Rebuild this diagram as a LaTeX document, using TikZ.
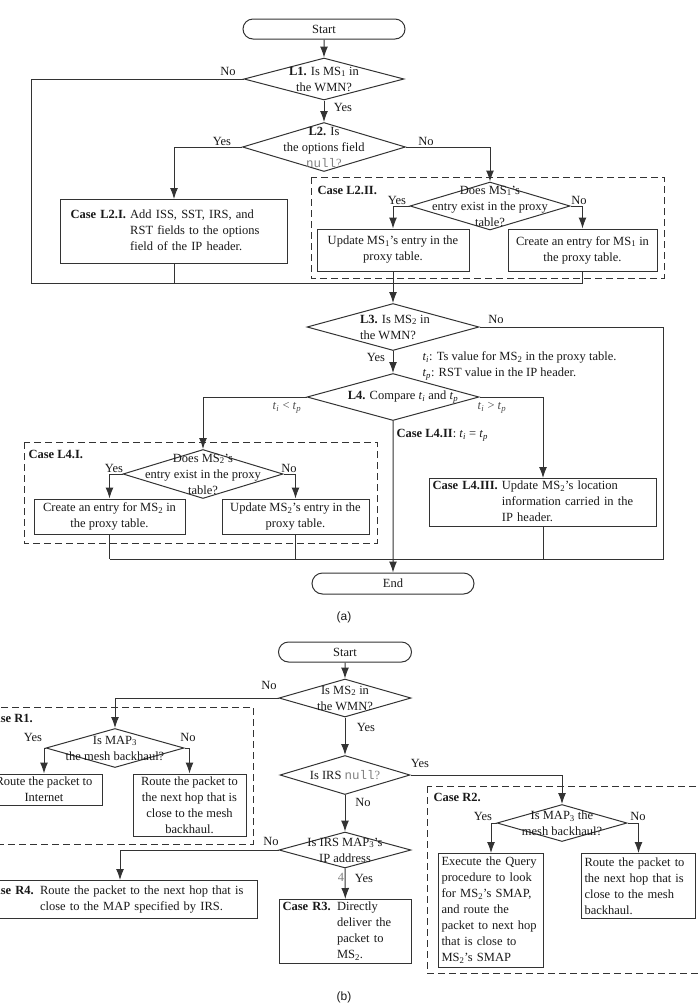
\documentclass[tikz,border=0pt]{standalone}
\usepackage{fontspec}
\setmainfont{Liberation Serif}
\setmonofont{Liberation Mono}
\newfontfamily\capfont{Liberation Sans}
\usetikzlibrary{shapes.geometric,shapes.misc,arrows.meta}
\newcommand\ms[1]{MS\textsubscript{#1}}
\newcommand\mapthree{MAP\textsubscript{3}}
\newcommand\nullq{\textcolor{gray}{\texttt{null}?}}
\newcommand\tI{\textit{t}\textsubscript{\textit{i}}}
\newcommand\tP{\textit{t}\textsubscript{\textit{p}}}
\tikzset{
  every node/.style={font=\fontsize{12.5}{16}\selectfont, text=black!90},
  term/.style 2 args={draw, rounded rectangle, minimum width=#1, minimum height=#2, inner sep=0pt},
  dec/.style 2 args={diamond, draw, inner sep=0pt, minimum width=#1, minimum height=#2},
  dtext/.style={align=center, inner sep=0pt},
  cbox/.style 2 args={draw, minimum width=#1, minimum height=#2, inner sep=0pt, align=center},
  lbox/.style 2 args={draw, anchor=north west, inner xsep=3pt, inner ysep=0pt, text width=#1, minimum height=#2, align=left},
  casebox/.style={dash pattern=on 7pt off 4pt},
  lab/.style={inner sep=1pt},
  cmp/.style={inner sep=1pt, text=black!70},
  caption/.style={font=\capfont\fontsize{12}{14}\selectfont},
}
\begin{document}
\begin{tikzpicture}[>={Latex[length=11pt,width=8pt]}, x=1pt, y=-1pt, line width=1pt, color=black!80]
\useasboundingbox (0,0) rectangle (699,1005);
\clip (0,0) rectangle (699,1005);
% ---------------- (a) ----------------
\node[term={162pt}{20pt}] (startA) at (324,29) {Start};
\node[dec={160pt}{42pt}, label={[dtext]center:{\textbf{L1.} Is \ms{1} in\\the WMN?}}] (l1) at (324,79) {};
\node[dec={163pt}{49pt}, label={[dtext]center:{\textbf{L2.} Is\\the options field\\\nullq}}] (l2) at (324,147) {};
\node[lbox={207pt}{64pt}, inner xsep=10pt] (l2i) at (60,199) {\begin{tabular}{@{}l@{ }l@{}}\textbf{Case L2.I.} & Add ISS, SST, IRS, and\\ & RST fields to the options\\ & field of the IP header.\end{tabular}};
% Case L2.II
\draw[casebox] (311,177) rectangle (664,278);
\node[lab, anchor=west] (c2ii) at (316,190) {\textbf{Case L2.II.}};
\node[dec={160pt}{48pt}, label={[dtext]center:{Does \ms{1}'s\\entry exist in the proxy\\table?}}] (l2ii) at (490,206) {};
\node[cbox={152pt}{42pt}] (upd1) at (393,250) {Update \ms{1}'s entry in the\\proxy table.};
\node[cbox={149pt}{42pt}] (cre1) at (582.5,250) {Create an entry for \ms{1} in\\the proxy table.};
\coordinate (ja) at (31,283);
\coordinate (jb) at (582.5,283);
% L3, L4
\node[dec={172pt}{47pt}, label={[dtext, align=left, xshift=2pt]center:{\textbf{L3.} Is \ms{2} in\\the WMN?}}] (l3) at (393,327) {};
\node[lab, anchor=west, align=left] (note) at (421,366) {\tI: Ts value for \ms{2} in the proxy table.\\\tP: RST value in the IP header.};
\node[dec={172pt}{47pt}, label={[dtext, xshift=10pt]center:{\textbf{L4.} Compare \tI{} and \tP}}] (l4) at (393,397) {};
% Case L4.I
\draw[casebox] (24,442) rectangle (377,543);
\node[lab, anchor=west] (c4i) at (27,454) {\textbf{Case L4.I.}};
\node[dec={160pt}{49pt}, label={[dtext]center:{Does \ms{2}'s\\entry exist in the proxy\\table?}}] (l4ii) at (203,474) {};
\node[cbox={151pt}{35pt}] (cre2) at (109.5,516.5) {Create an entry for \ms{2} in\\the proxy table.};
\node[cbox={147pt}{35pt}] (upd2) at (295.5,516.5) {Update \ms{2}'s entry in the\\proxy table.};
\node[lbox={221pt}{47pt}] (c43) at (429,478) {\begin{tabular}{@{}l@{ }l@{}}\textbf{Case L4.III.} & Update \ms{2}'s location\\ & information carried in the\\ & IP header.\end{tabular}};
\coordinate (jc) at (109.5,559);
\coordinate (jd) at (663,559);
\node[term={162pt}{21pt}] (endA) at (393,583.5) {End};
% connectors (a)
\draw[->] (startA) -- (l1);
\draw (l1.west) -| (ja) -- (jb);
\draw[->] (l1) -- (l2);
\draw[->] (l2.west) -| (l2i.north);
\draw[->] (l2.east) -| (l2ii.north);
\draw[->] (l2ii.west) -| (upd1.north);
\draw[->] (l2ii.east) -| (cre1.north);
\draw (l2i.south) -- (l2i.south |- ja);
\draw (cre1.south) -- (jb);
\draw[->] (upd1.south) -- (l3.north);
\draw (l3.east) -| (jd) -- (jc);
\draw[->] (l3) -- (l4);
\draw[->] (l4.west) -| (l4ii.north);
\draw[->] (l4.east) -| (c43.north);
\draw[->] (l4) -- (endA);
\draw[->] (l4ii.west) -| (cre2.north);
\draw[->] (l4ii.east) -| (upd2.north);
\draw (cre2.south) -- (jc);
\draw (upd2.south) -- (upd2.south |- jc);
\draw (c43.south) -- (c43.south |- jc);
% branch labels (a)
\node[lab] (nA1) at (228,71) {No};
\node[lab] (yA1) at (343,107) {Yes};
\node[lab] (yA2) at (222,141) {Yes};
\node[lab] (nA2) at (426,141) {No};
\node[lab] (yA3) at (397,200) {Yes};
\node[lab] (nA3) at (579,200) {No};
\node[lab] (nA4) at (496,319) {No};
\node[lab] (yA4) at (376,357) {Yes};
\node[cmp] (lt) at (287,408) {\tI{} < \tP};
\node[cmp] (gt) at (492,408) {\tI{} > \tP};
\node[lab, anchor=west] (c4ii) at (395,435) {\textbf{Case L4.II}: \tI{} = \tP};
\node[lab] (yA5) at (114,468) {Yes};
\node[lab] (nA5) at (289,468) {No};
\node[caption] (capA) at (344,617) {(a)};
% ---------------- (b) ----------------
\node[term={133pt}{20pt}] (startB) at (345,652) {Start};
\node[dec={132pt}{38pt}, label={[dtext]center:{Is \ms{2} in\\the WMN?}}] (b1) at (345,698) {};
\node[dec={130pt}{39pt}, label={[dtext]center:{Is IRS \nullq}}] (b2) at (345,775) {};
\node[dec={132pt}{36pt}, label={[dtext]center:{Is IRS \mapthree's\\IP address}}] (b3) at (345,850) {};
% Case R1
\draw[casebox] (-20,707) rectangle (253,844);
\node[lab, anchor=west] (cr1) at (-16,718) {\textbf{Case R1.}};
\node[dec={138pt}{39pt}, label={[dtext]center:{Is \mapthree\\the mesh backhaul?}}] (r1) at (115,748) {};
\node[cbox={116pt}{31pt}] (r1a) at (44,789.5) {Route the packet to\\Internet};
\node[cbox={113pt}{62pt}] (r1b) at (189.5,805) {Route the packet to\\the next hop that is\\close to the mesh\\backhaul.};
% Case R2
\draw[casebox] (427,786) rectangle (710,973);
\node[lab, anchor=west] (cr2) at (432,797) {\textbf{Case R2.}};
\node[dec={130pt}{37pt}, label={[dtext]center:{Is \mapthree{} the\\mesh backhaul?}}] (r2) at (562,823) {};
\node[lbox={99pt}{114pt}] (r2a) at (438,853) {Execute the Query\\procedure to look\\for \ms{2}'s SMAP,\\and route the\\packet to next hop\\that is close to\\\ms{2}'s SMAP};
\node[lbox={108pt}{65pt}] (r2b) at (581,853) {Route the packet to\\the next hop that is\\close to the mesh\\backhaul.};
% Case R3, R4
\node[lbox={269pt}{38pt}] (r4) at (-18,880) {\begin{tabular}{@{}l@{ }l@{}}\textbf{Case R4.} & Route the packet to the next hop that is\\ & close to the MAP specified by IRS.\end{tabular}};
\node[lbox={126pt}{64pt}] (r3) at (279,899) {\begin{tabular}{@{}l@{ }l@{}}\textbf{Case R3.} & Directly\\ & deliver the\\ & packet to\\ & \ms{2}.\end{tabular}};
% connectors (b)
\draw[->] (startB) -- (b1);
\draw[->] (b1.west) -| (r1.north);
\draw[->] (b1) -- (b2);
\draw[->] (b2.east) -| (r2.north);
\draw[->] (b2) -- (b3);
\draw[->] (b3.west) -| (r4.north);
\draw[->] (b3) -- (r3);
\draw[->] (r1.west) -| (r1a.north);
\draw[->] (r1.east) -| (r1b.north);
\draw[->] (r2.west) -| (r2a.north);
\draw[->] (r2.east) -| (r2b.north);
% branch labels (b)
\node[lab] (nB1) at (269,685) {No};
\node[lab] (yB1) at (366,727) {Yes};
\node[lab] (yB2) at (420,763) {Yes};
\node[lab] (nB2) at (363,802) {No};
\node[lab] (nB3) at (271,841) {No};
\node[lab] (yB3) at (364,878) {Yes};
\node[lab, text=gray] (four) at (341,877) {4};
\node[lab] (yB4) at (33,737) {Yes};
\node[lab] (nB4) at (188,737) {No};
\node[lab] (yB5) at (483,816) {Yes};
\node[lab] (nB5) at (638,816) {No};
\node[caption] (capB) at (344,997) {(b)};
\end{tikzpicture}
\end{document}
